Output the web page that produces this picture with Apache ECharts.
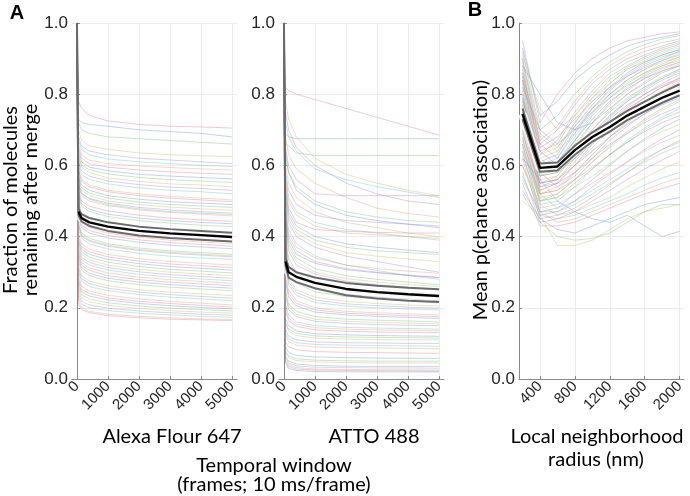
<!DOCTYPE html>
<html>
<head>
<meta charset="utf-8">
<script src="https://cdn.jsdelivr.net/npm/echarts@6/dist/echarts.min.js"></script>
<style>
  html, body { margin: 0; padding: 0; background: #fff; }
  #chart { width: 690px; height: 496px; }
</style>
</head>
<body>
<div id="chart"></div>
<script>
// x positions (frames) for panel A, radius (nm) for panel B
const aX = [0, 50, 150, 400, 1000, 2000, 3000, 4000, 5000];
const bX = [200, 400, 600, 800, 1000, 1200, 1400, 1600, 1800, 2000];

// Alexa Flour 647 single traces
const alexaLines = [
  [1, 0.78, 0.76, 0.74, 0.725, 0.715, 0.71, 0.708, 0.705],
  [1, 0.73, 0.72, 0.715, 0.71, 0.70, 0.695, 0.69, 0.68],
  [1, 0.72, 0.70, 0.69, 0.68, 0.675, 0.67, 0.665, 0.66],
  [1, 0.70, 0.67, 0.655, 0.645, 0.635, 0.63, 0.627, 0.625],
  [1, 0.68, 0.655, 0.64, 0.63, 0.62, 0.615, 0.61, 0.605],
  [1, 0.67, 0.645, 0.63, 0.618, 0.61, 0.605, 0.60, 0.597],
  [1, 0.66, 0.63, 0.615, 0.605, 0.598, 0.594, 0.59, 0.587],
  [1, 0.65, 0.62, 0.605, 0.595, 0.587, 0.582, 0.578, 0.575],
  [1, 0.64, 0.61, 0.595, 0.585, 0.575, 0.57, 0.566, 0.562],
  [1, 0.63, 0.60, 0.588, 0.576, 0.566, 0.56, 0.556, 0.552],
  [1, 0.62, 0.595, 0.58, 0.565, 0.555, 0.548, 0.545, 0.54],
  [1, 0.61, 0.585, 0.57, 0.556, 0.546, 0.539, 0.535, 0.53],
  [1, 0.60, 0.575, 0.56, 0.548, 0.537, 0.53, 0.526, 0.52],
  [1, 0.59, 0.56, 0.545, 0.53, 0.52, 0.513, 0.508, 0.503],
  [1, 0.585, 0.555, 0.54, 0.526, 0.515, 0.508, 0.503, 0.498],
  [1, 0.57, 0.545, 0.53, 0.515, 0.505, 0.498, 0.494, 0.49],
  [1, 0.565, 0.537, 0.522, 0.508, 0.497, 0.49, 0.486, 0.482],
  [1, 0.56, 0.53, 0.515, 0.50, 0.49, 0.483, 0.478, 0.474],
  [1, 0.55, 0.522, 0.507, 0.494, 0.482, 0.475, 0.47, 0.466],
  [1, 0.545, 0.52, 0.505, 0.49, 0.478, 0.47, 0.466, 0.462],
  [1, 0.54, 0.515, 0.50, 0.487, 0.475, 0.468, 0.463, 0.458],
  [1, 0.53, 0.50, 0.485, 0.472, 0.46, 0.452, 0.447, 0.443],
  [1, 0.52, 0.492, 0.477, 0.463, 0.452, 0.445, 0.44, 0.436],
  [1, 0.51, 0.485, 0.47, 0.456, 0.445, 0.438, 0.432, 0.428],
  [1, 0.50, 0.47, 0.455, 0.44, 0.428, 0.42, 0.415, 0.41],
  [1, 0.49, 0.462, 0.447, 0.432, 0.42, 0.412, 0.407, 0.403],
  [1, 0.48, 0.455, 0.44, 0.425, 0.413, 0.405, 0.40, 0.396],
  [1, 0.47, 0.44, 0.425, 0.41, 0.398, 0.39, 0.385, 0.38],
  [1, 0.46, 0.432, 0.417, 0.403, 0.391, 0.383, 0.378, 0.373],
  [1, 0.45, 0.425, 0.41, 0.396, 0.384, 0.376, 0.371, 0.366],
  [1, 0.44, 0.41, 0.395, 0.38, 0.368, 0.36, 0.355, 0.35],
  [1, 0.435, 0.405, 0.39, 0.376, 0.364, 0.356, 0.351, 0.346],
  [1, 0.43, 0.402, 0.387, 0.373, 0.361, 0.353, 0.348, 0.343],
  [1, 0.42, 0.395, 0.38, 0.365, 0.353, 0.345, 0.34, 0.336],
  [1, 0.41, 0.38, 0.365, 0.35, 0.338, 0.33, 0.325, 0.32],
  [1, 0.40, 0.372, 0.357, 0.343, 0.331, 0.323, 0.318, 0.313],
  [1, 0.39, 0.365, 0.35, 0.336, 0.324, 0.316, 0.311, 0.306],
  [1, 0.385, 0.357, 0.342, 0.328, 0.316, 0.308, 0.303, 0.298],
  [1, 0.38, 0.35, 0.335, 0.32, 0.308, 0.30, 0.295, 0.29],
  [1, 0.37, 0.342, 0.327, 0.313, 0.301, 0.293, 0.288, 0.283],
  [1, 0.36, 0.335, 0.32, 0.306, 0.294, 0.286, 0.281, 0.276],
  [1, 0.355, 0.327, 0.312, 0.298, 0.286, 0.279, 0.274, 0.269],
  [1, 0.35, 0.32, 0.305, 0.29, 0.279, 0.272, 0.267, 0.262],
  [1, 0.34, 0.312, 0.297, 0.283, 0.272, 0.265, 0.26, 0.255],
  [1, 0.33, 0.305, 0.29, 0.276, 0.265, 0.258, 0.253, 0.248],
  [1, 0.32, 0.29, 0.275, 0.262, 0.251, 0.244, 0.239, 0.234],
  [1, 0.31, 0.282, 0.268, 0.255, 0.244, 0.237, 0.232, 0.227],
  [1, 0.30, 0.275, 0.26, 0.248, 0.237, 0.23, 0.225, 0.22],
  [1, 0.29, 0.26, 0.247, 0.235, 0.225, 0.218, 0.213, 0.208],
  [1, 0.28, 0.252, 0.24, 0.228, 0.218, 0.212, 0.207, 0.202],
  [1, 0.27, 0.245, 0.233, 0.222, 0.212, 0.206, 0.201, 0.197],
  [1, 0.26, 0.236, 0.225, 0.214, 0.205, 0.199, 0.195, 0.191],
  [1, 0.25, 0.228, 0.217, 0.207, 0.198, 0.192, 0.188, 0.185],
  [1, 0.24, 0.218, 0.208, 0.199, 0.191, 0.186, 0.182, 0.179],
  [1, 0.23, 0.21, 0.20, 0.192, 0.185, 0.18, 0.176, 0.173],
  [1, 0.22, 0.20, 0.19, 0.182, 0.176, 0.172, 0.169, 0.167],
  [1, 0.21, 0.195, 0.186, 0.178, 0.172, 0.168, 0.166, 0.164]
];
const alexaMean  = [null, 0.47, 0.452, 0.44, 0.428, 0.416, 0.409, 0.404, 0.399];
const alexaUpper = [1, 0.478, 0.463, 0.452, 0.44, 0.428, 0.421, 0.416, 0.411];
const alexaLower = [1, 0.46, 0.442, 0.43, 0.416, 0.403, 0.396, 0.391, 0.386];

// ATTO 488 single traces
const attoLines = [
  [1, 0.82, 0.81, 0.80, 0.785, 0.76, 0.735, 0.71, 0.685],
  [1, 0.69, 0.68, 0.675, 0.675, 0.675, 0.675, 0.675, 0.675],
  [1, 0.66, 0.655, 0.635, 0.628, 0.628, 0.628, 0.628, 0.628],
  [1, 0.78, 0.73, 0.68, 0.62, 0.575, 0.55, 0.53, 0.515],
  [1, 0.75, 0.70, 0.65, 0.60, 0.55, 0.52, 0.50, 0.49],
  [1, 0.72, 0.68, 0.64, 0.59, 0.56, 0.54, 0.525, 0.51],
  [1, 0.68, 0.63, 0.59, 0.55, 0.51, 0.48, 0.465, 0.455],
  [1, 0.65, 0.60, 0.56, 0.52, 0.515, 0.515, 0.515, 0.515],
  [1, 0.64, 0.58, 0.53, 0.49, 0.46, 0.445, 0.435, 0.425],
  [1, 0.62, 0.58, 0.54, 0.50, 0.47, 0.455, 0.445, 0.44],
  [1, 0.60, 0.55, 0.51, 0.47, 0.44, 0.425, 0.41, 0.40],
  [1, 0.58, 0.53, 0.49, 0.46, 0.445, 0.44, 0.435, 0.43],
  [1, 0.57, 0.51, 0.47, 0.44, 0.42, 0.41, 0.40, 0.39],
  [1, 0.56, 0.50, 0.46, 0.43, 0.41, 0.405, 0.40, 0.395],
  [1, 0.55, 0.48, 0.44, 0.42, 0.415, 0.412, 0.41, 0.41],
  [1, 0.53, 0.47, 0.43, 0.40, 0.38, 0.37, 0.362, 0.355],
  [1, 0.52, 0.46, 0.42, 0.39, 0.37, 0.36, 0.355, 0.35],
  [1, 0.51, 0.45, 0.41, 0.38, 0.355, 0.345, 0.337, 0.33],
  [1, 0.50, 0.44, 0.40, 0.37, 0.345, 0.33, 0.315, 0.30],
  [1, 0.48, 0.42, 0.38, 0.345, 0.32, 0.305, 0.29, 0.28],
  [1, 0.47, 0.41, 0.37, 0.34, 0.32, 0.31, 0.303, 0.297],
  [1, 0.46, 0.40, 0.36, 0.33, 0.31, 0.30, 0.292, 0.285],
  [1, 0.45, 0.39, 0.35, 0.325, 0.307, 0.298, 0.291, 0.285],
  [1, 0.44, 0.38, 0.34, 0.31, 0.29, 0.28, 0.272, 0.265],
  [1, 0.43, 0.37, 0.33, 0.30, 0.282, 0.272, 0.265, 0.26],
  [1, 0.42, 0.36, 0.32, 0.295, 0.275, 0.265, 0.258, 0.25],
  [1, 0.40, 0.34, 0.30, 0.275, 0.26, 0.252, 0.246, 0.24],
  [1, 0.39, 0.33, 0.295, 0.27, 0.255, 0.247, 0.241, 0.236],
  [1, 0.38, 0.32, 0.285, 0.26, 0.245, 0.238, 0.233, 0.228],
  [1, 0.36, 0.31, 0.278, 0.253, 0.238, 0.23, 0.225, 0.22],
  [1, 0.35, 0.30, 0.27, 0.245, 0.232, 0.225, 0.22, 0.215],
  [1, 0.33, 0.28, 0.25, 0.23, 0.218, 0.212, 0.208, 0.205],
  [1, 0.32, 0.273, 0.243, 0.222, 0.211, 0.206, 0.202, 0.199],
  [1, 0.31, 0.265, 0.235, 0.215, 0.205, 0.20, 0.197, 0.194],
  [1, 0.29, 0.25, 0.22, 0.20, 0.19, 0.186, 0.183, 0.18],
  [1, 0.28, 0.24, 0.213, 0.194, 0.185, 0.181, 0.178, 0.175],
  [1, 0.27, 0.23, 0.205, 0.188, 0.18, 0.176, 0.173, 0.17],
  [1, 0.25, 0.21, 0.19, 0.175, 0.168, 0.165, 0.163, 0.16],
  [1, 0.24, 0.203, 0.182, 0.168, 0.162, 0.159, 0.157, 0.155],
  [1, 0.23, 0.195, 0.175, 0.162, 0.156, 0.153, 0.151, 0.15],
  [1, 0.21, 0.18, 0.16, 0.15, 0.145, 0.143, 0.142, 0.14],
  [1, 0.20, 0.172, 0.154, 0.144, 0.14, 0.138, 0.137, 0.135],
  [1, 0.19, 0.165, 0.148, 0.138, 0.134, 0.132, 0.131, 0.13],
  [1, 0.17, 0.15, 0.135, 0.127, 0.124, 0.122, 0.121, 0.12],
  [1, 0.16, 0.14, 0.128, 0.121, 0.118, 0.117, 0.116, 0.115],
  [1, 0.155, 0.135, 0.122, 0.115, 0.112, 0.111, 0.11, 0.11],
  [1, 0.14, 0.12, 0.11, 0.104, 0.102, 0.101, 0.10, 0.10],
  [1, 0.13, 0.112, 0.102, 0.097, 0.095, 0.094, 0.093, 0.092],
  [1, 0.12, 0.105, 0.095, 0.09, 0.088, 0.087, 0.086, 0.085],
  [1, 0.105, 0.09, 0.082, 0.077, 0.075, 0.074, 0.073, 0.072],
  [1, 0.09, 0.075, 0.066, 0.062, 0.06, 0.059, 0.058, 0.058],
  [1, 0.08, 0.065, 0.057, 0.053, 0.051, 0.05, 0.05, 0.05],
  [1, 0.075, 0.06, 0.052, 0.048, 0.046, 0.045, 0.045, 0.045],
  [1, 0.065, 0.05, 0.042, 0.038, 0.036, 0.035, 0.035, 0.035],
  [1, 0.06, 0.045, 0.037, 0.033, 0.032, 0.031, 0.031, 0.03],
  [1, 0.055, 0.04, 0.032, 0.028, 0.027, 0.026, 0.026, 0.025],
  [1, 0.05, 0.035, 0.028, 0.025, 0.024, 0.023, 0.023, 0.022],
  [1, 0.045, 0.03, 0.024, 0.021, 0.02, 0.02, 0.02, 0.02]
];
const attoMean  = [null, 0.33, 0.30, 0.287, 0.27, 0.253, 0.244, 0.238, 0.233];
const attoUpper = [1, 0.34, 0.315, 0.30, 0.285, 0.27, 0.262, 0.256, 0.252];
const attoLower = [1, 0.318, 0.285, 0.272, 0.255, 0.235, 0.226, 0.22, 0.216];

// panel B single traces
const radiusLines = [
  [0.95, 0.72, 0.80, 0.86, 0.90, 0.93, 0.95, 0.96, 0.97, 0.975],
  [0.93, 0.74, 0.78, 0.84, 0.88, 0.91, 0.935, 0.95, 0.96, 0.97],
  [0.92, 0.70, 0.74, 0.80, 0.85, 0.89, 0.92, 0.94, 0.955, 0.965],
  [0.91, 0.76, 0.70, 0.74, 0.79, 0.83, 0.87, 0.89, 0.91, 0.925],
  [0.90, 0.66, 0.70, 0.77, 0.83, 0.87, 0.90, 0.92, 0.935, 0.95],
  [0.90, 0.69, 0.65, 0.72, 0.79, 0.84, 0.875, 0.90, 0.92, 0.935],
  [0.89, 0.67, 0.71, 0.78, 0.84, 0.88, 0.91, 0.93, 0.945, 0.955],
  [0.88, 0.64, 0.66, 0.74, 0.80, 0.85, 0.88, 0.905, 0.925, 0.94],
  [0.88, 0.80, 0.72, 0.70, 0.72, 0.76, 0.80, 0.83, 0.86, 0.88],
  [0.87, 0.63, 0.67, 0.75, 0.81, 0.86, 0.89, 0.91, 0.93, 0.945],
  [0.86, 0.62, 0.64, 0.72, 0.78, 0.83, 0.87, 0.895, 0.915, 0.93],
  [0.86, 0.66, 0.62, 0.69, 0.76, 0.81, 0.85, 0.88, 0.90, 0.92],
  [0.85, 0.60, 0.62, 0.70, 0.76, 0.815, 0.855, 0.885, 0.905, 0.92],
  [0.85, 0.68, 0.64, 0.69, 0.75, 0.80, 0.84, 0.87, 0.89, 0.905],
  [0.84, 0.65, 0.68, 0.73, 0.78, 0.82, 0.85, 0.875, 0.895, 0.91],
  [0.84, 0.61, 0.63, 0.71, 0.77, 0.82, 0.86, 0.89, 0.91, 0.925],
  [0.83, 0.58, 0.60, 0.67, 0.74, 0.79, 0.83, 0.86, 0.885, 0.905],
  [0.82, 0.63, 0.65, 0.71, 0.76, 0.80, 0.835, 0.86, 0.88, 0.895],
  [0.82, 0.70, 0.66, 0.70, 0.75, 0.79, 0.825, 0.85, 0.875, 0.89],
  [0.81, 0.59, 0.61, 0.68, 0.745, 0.80, 0.84, 0.87, 0.895, 0.915],
  [0.80, 0.57, 0.58, 0.65, 0.72, 0.77, 0.81, 0.845, 0.87, 0.89],
  [0.80, 0.62, 0.58, 0.62, 0.67, 0.72, 0.76, 0.79, 0.82, 0.84],
  [0.79, 0.60, 0.61, 0.67, 0.73, 0.78, 0.815, 0.845, 0.865, 0.88],
  [0.79, 0.57, 0.59, 0.66, 0.72, 0.775, 0.82, 0.855, 0.88, 0.90],
  [0.78, 0.56, 0.57, 0.63, 0.69, 0.74, 0.785, 0.82, 0.85, 0.87],
  [0.78, 0.64, 0.60, 0.64, 0.69, 0.74, 0.78, 0.81, 0.84, 0.86],
  [0.77, 0.59, 0.60, 0.65, 0.70, 0.75, 0.79, 0.82, 0.845, 0.865],
  [0.77, 0.55, 0.57, 0.64, 0.70, 0.755, 0.80, 0.835, 0.865, 0.885],
  [0.76, 0.55, 0.56, 0.61, 0.67, 0.72, 0.765, 0.80, 0.83, 0.855],
  [0.75, 0.58, 0.59, 0.63, 0.68, 0.73, 0.77, 0.80, 0.825, 0.845],
  [0.75, 0.54, 0.56, 0.62, 0.68, 0.735, 0.78, 0.815, 0.845, 0.87],
  [0.74, 0.53, 0.55, 0.60, 0.65, 0.70, 0.74, 0.78, 0.81, 0.835],
  [0.74, 0.58, 0.54, 0.57, 0.62, 0.67, 0.71, 0.745, 0.775, 0.80],
  [0.73, 0.57, 0.58, 0.62, 0.66, 0.70, 0.74, 0.77, 0.80, 0.82],
  [0.72, 0.52, 0.54, 0.58, 0.63, 0.68, 0.72, 0.755, 0.785, 0.81],
  [0.72, 0.53, 0.55, 0.60, 0.66, 0.71, 0.755, 0.79, 0.82, 0.845],
  [0.71, 0.55, 0.56, 0.60, 0.64, 0.68, 0.715, 0.745, 0.77, 0.79],
  [0.70, 0.50, 0.52, 0.56, 0.61, 0.655, 0.695, 0.73, 0.76, 0.785],
  [0.70, 0.52, 0.53, 0.58, 0.63, 0.68, 0.725, 0.76, 0.79, 0.815],
  [0.69, 0.54, 0.55, 0.58, 0.62, 0.66, 0.69, 0.72, 0.745, 0.765],
  [0.68, 0.49, 0.50, 0.54, 0.59, 0.63, 0.67, 0.705, 0.735, 0.76],
  [0.68, 0.51, 0.52, 0.56, 0.61, 0.65, 0.69, 0.725, 0.755, 0.78],
  [0.67, 0.52, 0.53, 0.56, 0.595, 0.63, 0.665, 0.695, 0.72, 0.74],
  [0.66, 0.47, 0.48, 0.52, 0.56, 0.60, 0.64, 0.675, 0.705, 0.73],
  [0.66, 0.50, 0.51, 0.55, 0.59, 0.63, 0.665, 0.70, 0.73, 0.75],
  [0.65, 0.50, 0.51, 0.54, 0.57, 0.605, 0.64, 0.67, 0.695, 0.715],
  [0.64, 0.46, 0.47, 0.50, 0.54, 0.575, 0.61, 0.645, 0.675, 0.70],
  [0.64, 0.52, 0.48, 0.50, 0.53, 0.56, 0.59, 0.62, 0.645, 0.665],
  [0.63, 0.48, 0.49, 0.52, 0.55, 0.58, 0.61, 0.64, 0.665, 0.685],
  [0.62, 0.45, 0.46, 0.48, 0.51, 0.545, 0.58, 0.615, 0.645, 0.67],
  [0.62, 0.56, 0.50, 0.47, 0.45, 0.44, 0.46, 0.43, 0.40, 0.415],
  [0.60, 0.47, 0.47, 0.49, 0.52, 0.55, 0.58, 0.61, 0.635, 0.655],
  [0.60, 0.49, 0.46, 0.47, 0.49, 0.51, 0.54, 0.565, 0.59, 0.61],
  [0.58, 0.44, 0.45, 0.47, 0.50, 0.53, 0.56, 0.59, 0.615, 0.64],
  [0.57, 0.46, 0.45, 0.46, 0.48, 0.50, 0.52, 0.545, 0.565, 0.58],
  [0.56, 0.47, 0.44, 0.45, 0.47, 0.49, 0.51, 0.53, 0.55, 0.565],
  [0.55, 0.43, 0.43, 0.44, 0.46, 0.48, 0.50, 0.52, 0.535, 0.55],
  [0.53, 0.45, 0.42, 0.41, 0.43, 0.45, 0.47, 0.49, 0.50, 0.51],
  [0.52, 0.44, 0.40, 0.39, 0.395, 0.41, 0.44, 0.47, 0.49, 0.49],
  [0.50, 0.46, 0.375, 0.375, 0.39, 0.42, 0.45, 0.47, 0.48, 0.49]
];
const radiusMean  = [0.745, 0.593, 0.597, 0.643, 0.68, 0.708, 0.74, 0.765, 0.79, 0.81];
const radiusUpper = [0.76, 0.605, 0.608, 0.655, 0.693, 0.722, 0.753, 0.779, 0.805, 0.828];
const radiusLower = [0.73, 0.582, 0.586, 0.63, 0.667, 0.695, 0.727, 0.752, 0.776, 0.797];

const yTicks = [0, 0.2, 0.4, 0.6, 0.8, 1.0];

const palette = ['#d97a98', '#6f8fd6', '#78bd78', '#c4b96c', '#a586cc', '#66c2c2', '#e0a070'];

let chart = echarts.init(document.getElementById('chart'), null, { renderer: 'canvas' });

const tickFont = 'Liberation Sans, Arial, sans-serif';
const titleFont = 'Lato, sans-serif';

function xAxis(gi, min, max, step) {
  return {
    type: 'value', gridIndex: gi, min: min, max: max,
    minInterval: step, maxInterval: step,
    axisLine: { show: true, onZero: false, lineStyle: { color: '#8a8a8a', width: 1 } },
    axisTick: { show: true, inside: true, length: 3, lineStyle: { color: '#8a8a8a' } },
    axisLabel: {
      rotate: 45, fontSize: 15, color: '#262626', fontFamily: tickFont, margin: 5,
      showMinLabel: false, showMaxLabel: false,
      formatter: v => String(v)
    },
    splitLine: { show: true, showMinLine: false, showMaxLine: false, lineStyle: { color: '#ececec', width: 1 } }
  };
}

function yAxis(gi) {
  return {
    type: 'value', gridIndex: gi, min: yTicks[0], max: yTicks[yTicks.length - 1], interval: 0.2,
    axisLine: { show: true, lineStyle: { color: '#8a8a8a', width: 1 } },
    axisTick: { show: true, inside: true, length: 3, lineStyle: { color: '#8a8a8a' } },
    axisLabel: {
      fontSize: 17, color: '#262626', fontFamily: tickFont, margin: 4,
      formatter: v => v.toFixed(1)
    },
    splitLine: { show: true, lineStyle: { color: '#ececec', width: 1 } }
  };
}

let series = [];

function traces(list, xs, gi) {
  list.forEach((ys, i) => {
    series.push({
      type: 'line', xAxisIndex: gi, yAxisIndex: gi, symbol: 'none', silent: true, z: 1,
      data: xs.map((x, k) => [x, ys[k]]),
      lineStyle: { width: 0.8, color: palette[i % palette.length], opacity: 0.5 }
    });
  });
}

function meanBand(mean, upper, lower, xs, gi) {
  const toData = arr => xs.map((x, k) => [x, arr[k]]);
  series.push({
    type: 'line', xAxisIndex: gi, yAxisIndex: gi, symbol: 'none', silent: true, z: 2,
    data: toData(mean), lineStyle: { width: 9, color: '#ffffff', opacity: 0.75 }
  });
  [upper, lower].forEach(arr => {
    series.push({
      type: 'line', xAxisIndex: gi, yAxisIndex: gi, symbol: 'none', silent: true, z: 3,
      data: toData(arr), lineStyle: { width: 2, color: '#6b6b6b' }
    });
  });
  series.push({
    type: 'line', xAxisIndex: gi, yAxisIndex: gi, symbol: 'none', silent: true, z: 4,
    data: toData(mean), lineStyle: { width: 2.4, color: '#000000' }
  });
}

traces(alexaLines, aX, 0);
traces(attoLines, aX, 1);
traces(radiusLines, bX, 2);
meanBand(alexaMean, alexaUpper, alexaLower, aX, 0);
meanBand(attoMean, attoUpper, attoLower, aX, 1);
meanBand(radiusMean, radiusUpper, radiusLower, bX, 2);

function label(text, x, y, size, opts) {
  return Object.assign({
    type: 'text', x: x, y: y, silent: true,
    style: {
      text: text, fontSize: size, fontFamily: titleFont, fill: '#000',
      textAlign: 'center', textVerticalAlign: 'middle'
    }
  }, opts || {});
}

let option = {
  animation: false,
  backgroundColor: '#fff',
  grid: [
    { left: 72, top: 23, width: 165, height: 356 },
    { left: 279, top: 23, width: 165, height: 356 },
    { left: 519, top: 23, width: 165, height: 356 }
  ],
  xAxis: [xAxis(0, -160, 5160, 1000), xAxis(1, -160, 5160, 1000), xAxis(2, 160, 2050, 400)],
  yAxis: [yAxis(0), yAxis(1), yAxis(2)],
  series: series,
  graphic: [
    {
      type: 'text', x: 17, y: 13, silent: true,
      style: { text: 'A', fontSize: 20, fontWeight: 'bold', fontFamily: tickFont, fill: '#000', textAlign: 'center', textVerticalAlign: 'middle' }
    },
    {
      type: 'text', x: 475, y: 10, silent: true,
      style: { text: 'B', fontSize: 20, fontWeight: 'bold', fontFamily: tickFont, fill: '#000', textAlign: 'center', textVerticalAlign: 'middle' }
    },
    label('Fraction of molecules', 11, 200, 20, { rotation: Math.PI / 2 }),
    label('remaining after merge', 31, 200, 20, { rotation: Math.PI / 2 }),
    label('Mean p(chance association)', 481, 200, 20, { rotation: Math.PI / 2 }),
    label('Alexa Flour 647', 172, 437, 20),
    label('ATTO 488', 374, 437, 20),
    label('Temporal window', 274, 466, 20),
    label('(frames; 10 ms/frame)', 274, 485, 20),
    label('Local neighborhood', 597, 437, 20),
    label('radius (nm)', 596, 460, 20)
  ]
};

chart.setOption(option);
</script>
</body>
</html>
